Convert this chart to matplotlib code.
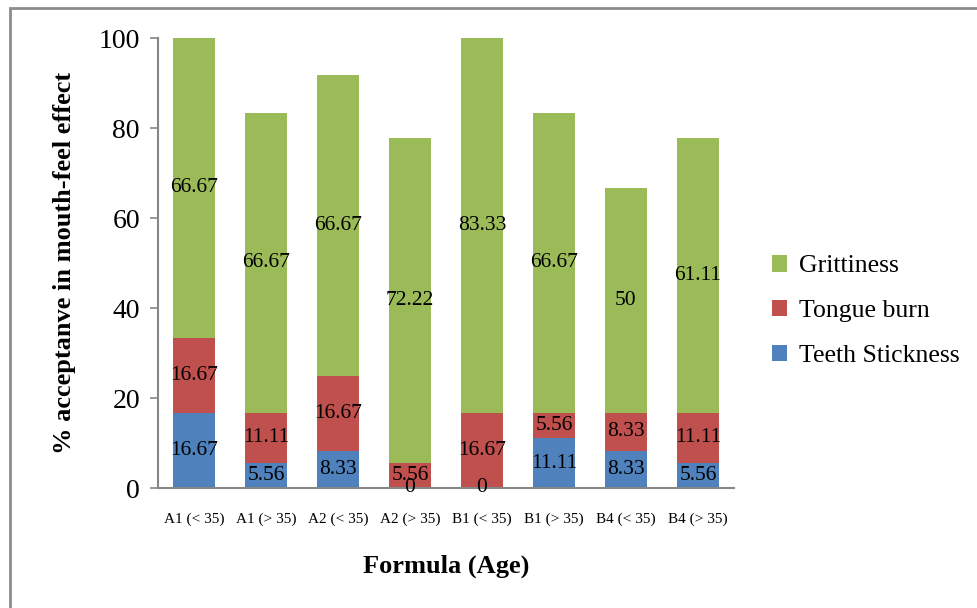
import matplotlib
matplotlib.use("Agg")
import matplotlib.pyplot as plt
from matplotlib.patches import Rectangle
import numpy as np

categories = ["A1 (< 35)", "A1 (> 35)", "A2 (< 35)", "A2 (> 35)",
              "B1 (< 35)", "B1 (> 35)", "B4 (< 35)", "B4 (> 35)"]
teeth_stickness = [16.67, 5.56, 8.33, 0, 0, 11.11, 8.33, 5.56]
tongue_burn = [16.67, 11.11, 16.67, 5.56, 16.67, 5.56, 8.33, 11.11]
grittiness = [66.67, 66.67, 66.67, 72.22, 83.33, 66.67, 50, 61.11]
y_ticks = [0, 20, 40, 60, 80, 100]

plt.rcParams["font.family"] = ["Liberation Serif", "DejaVu Serif"]

fig = plt.figure(figsize=(9.78, 6.08), dpi=100)
ax = fig.add_axes([158 / 978, 1 - 488 / 608, 576 / 978, 450 / 608])

# outer chart frame
fig.patches.append(Rectangle((10 / 978, -0.05), 1.05, 1 - 8 / 608 + 0.05,
                             transform=fig.transFigure, fill=False,
                             edgecolor="#8c8c8c", linewidth=2))

x = np.arange(len(categories))
width = 0.58
series = [("Teeth Stickness", teeth_stickness, "#4F81BD"),
          ("Tongue burn", tongue_burn, "#C0504D"),
          ("Grittiness", grittiness, "#9BBB59")]

bottom = np.zeros(len(categories))
handles = []
for name, vals, color in series:
    vals = np.array(vals, dtype=float)
    bars = ax.bar(x, vals, width, bottom=bottom, color=color, label=name)
    handles.append(bars)
    for xi, b, v in zip(x, bottom, vals):
        ax.text(xi, b + v / 2, f"{v:g}", ha="center", va="center",
                fontsize=15.5, color="black")
    bottom = bottom + vals

ax.set_xlim(-0.5, len(categories) - 0.5)
ax.set_ylim(0, 100)
ax.set_yticks(y_ticks)
ax.set_yticklabels([str(t) for t in y_ticks], fontsize=20)
ax.set_xticks(x)
ax.set_xticklabels(categories, fontsize=11)
ax.tick_params(axis="x", length=0, pad=18)
ax.tick_params(axis="y", length=6, width=1.2, color="#868686", pad=7)

for side in ["top", "right"]:
    ax.spines[side].set_visible(False)
for side in ["left", "bottom"]:
    ax.spines[side].set_color("#868686")
    ax.spines[side].set_linewidth(1.5)

ax.set_ylabel("% acceptanve in mouth-feel effect", fontsize=19,
              fontweight="bold", labelpad=16)
ax.set_xlabel("Formula (Age)", fontsize=19, fontweight="bold", labelpad=20)

leg = ax.legend(handles=handles[::-1], loc="center left",
                bbox_to_anchor=(1.043, 0.393), frameon=False, fontsize=18.5,
                handlelength=0.6, handleheight=0.6, handletextpad=0.45,
                labelspacing=0.88, borderpad=0)

fig.savefig("out.png", dpi=100)
